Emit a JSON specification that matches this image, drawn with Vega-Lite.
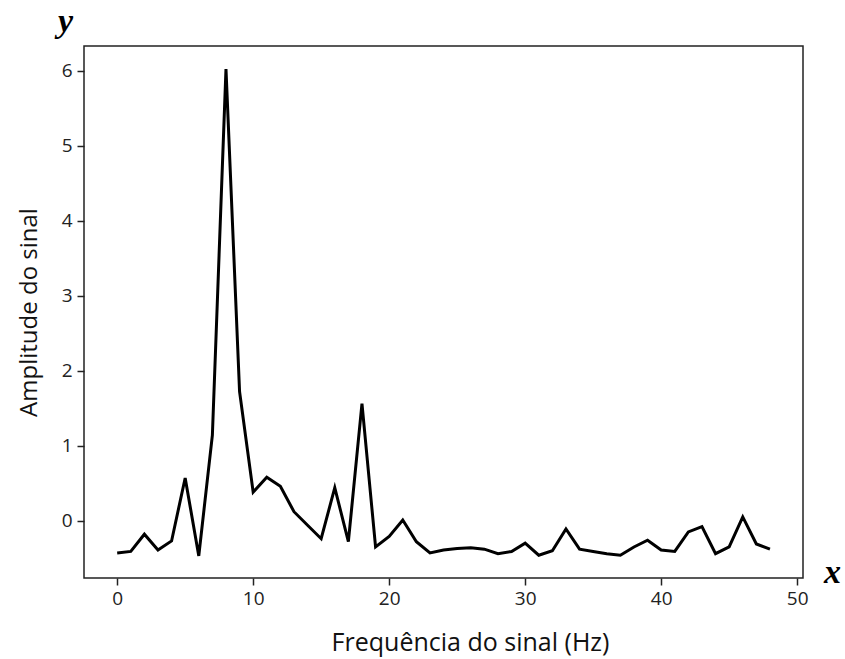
{
  "$schema": "https://vega.github.io/schema/vega-lite/v6.json",
  "autosize": {"type": "none"},
  "padding": {"left": 84, "top": 46, "right": 42, "bottom": 81},
  "width": 719,
  "height": 532,
  "background": "white",
  "config": {
    "view": {"stroke": "#222", "strokeWidth": 1.5},
    "font": "Open Sans",
    "axis": {"labelFont": "Open Sans", "titleFont": "Open Sans", "labelColor": "#222", "titleColor": "#111", "titleFontWeight": "normal", "domain": false, "tickColor": "#222", "tickWidth": 1.5, "tickSize": 7, "grid": false}
  },
  "title": {"text": "y", "anchor": "start", "frame": "group", "font": "Liberation Serif", "fontStyle": "italic", "fontWeight": "bold", "fontSize": 34, "color": "black", "dx": -26, "offset": 7},
  "data": {"values": [
    {"f": 0, "a": -0.43}, {"f": 1, "a": -0.41}, {"f": 2, "a": -0.18}, {"f": 3, "a": -0.39},
    {"f": 4, "a": -0.27}, {"f": 5, "a": 0.57}, {"f": 6, "a": -0.47}, {"f": 7, "a": 1.14},
    {"f": 8, "a": 6.02}, {"f": 9, "a": 1.72}, {"f": 10, "a": 0.38}, {"f": 11, "a": 0.58},
    {"f": 12, "a": 0.46}, {"f": 13, "a": 0.12}, {"f": 14, "a": -0.06}, {"f": 15, "a": -0.24},
    {"f": 16, "a": 0.44}, {"f": 17, "a": -0.28}, {"f": 18, "a": 1.56}, {"f": 19, "a": -0.35},
    {"f": 20, "a": -0.21}, {"f": 21, "a": 0.01}, {"f": 22, "a": -0.28}, {"f": 23, "a": -0.43},
    {"f": 24, "a": -0.39}, {"f": 25, "a": -0.37}, {"f": 26, "a": -0.36}, {"f": 27, "a": -0.38},
    {"f": 28, "a": -0.44}, {"f": 29, "a": -0.41}, {"f": 30, "a": -0.30}, {"f": 31, "a": -0.46},
    {"f": 32, "a": -0.40}, {"f": 33, "a": -0.11}, {"f": 34, "a": -0.38}, {"f": 35, "a": -0.41},
    {"f": 36, "a": -0.44}, {"f": 37, "a": -0.46}, {"f": 38, "a": -0.35}, {"f": 39, "a": -0.26},
    {"f": 40, "a": -0.39}, {"f": 41, "a": -0.41}, {"f": 42, "a": -0.15}, {"f": 43, "a": -0.08},
    {"f": 44, "a": -0.44}, {"f": 45, "a": -0.35}, {"f": 46, "a": 0.05}, {"f": 47, "a": -0.31},
    {"f": 48, "a": -0.38}
  ]},
  "layer": [
    {
      "mark": {"type": "line", "color": "black", "strokeWidth": 3, "strokeJoin": "miter", "clip": true},
      "encoding": {
        "x": {"field": "f", "type": "quantitative", "scale": {"domain": [-2.44, 50.43], "nice": false, "zero": false},
              "axis": {"values": [0, 10, 20, 30, 40, 50], "title": "Frequência do sinal (Hz)", "labelFontSize": 19, "titleFontSize": 25, "labelPadding": 4, "titleX": 386, "titleY": 72, "titleAlign": "center", "titleBaseline": "alphabetic", "format": "d"}},
        "y": {"field": "a", "type": "quantitative", "scale": {"domain": [-0.764, 6.329], "nice": false, "zero": false},
              "axis": {"values": [0, 1, 2, 3, 4, 5, 6], "title": "Amplitude do sinal", "labelFontSize": 19, "titleFontSize": 24, "labelPadding": 5, "titlePadding": 20, "format": "d"}}
      }
    },
    {
      "mark": {"type": "line", "opacity": 0},
      "encoding": {
        "x": {"field": "f", "type": "quantitative", "scale": {"domain": [-2.44, 50.43], "nice": false, "zero": false}},
        "y": {"field": "a", "type": "quantitative", "scale": {"domain": [-0.764, 6.329], "nice": false, "zero": false},
              "axis": {"orient": "right", "title": "x", "labels": false, "ticks": false, "domain": false, "titleAngle": 0, "titleX": 29, "titleY": 536, "titleAlign": "center", "titleBaseline": "alphabetic", "titleFont": "Liberation Serif", "titleFontStyle": "italic", "titleFontWeight": "bold", "titleFontSize": 34, "titleColor": "black"}}
      }
    }
  ],
  "resolve": {"scale": {"y": "independent"}}
}
